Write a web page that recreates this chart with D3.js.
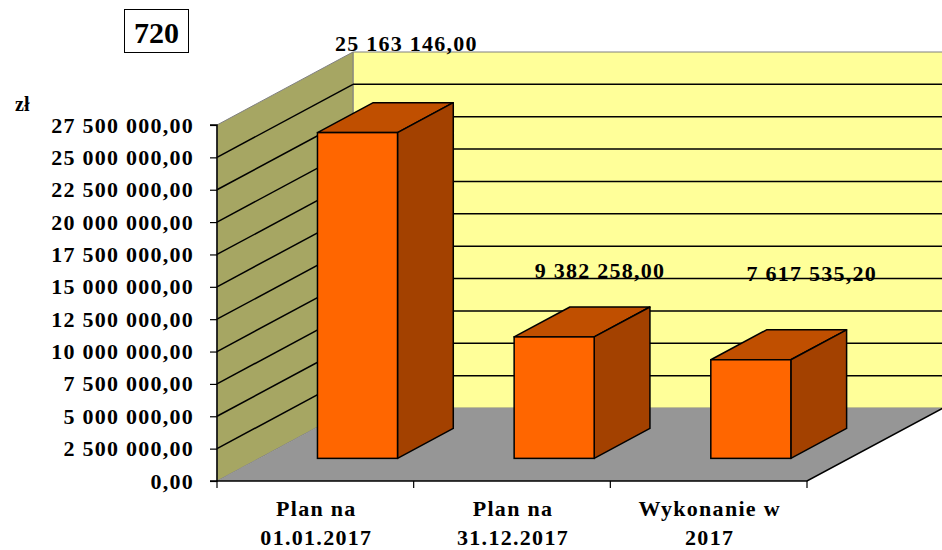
<!DOCTYPE html>
<html><head><meta charset="utf-8">
<script src="https://cdn.jsdelivr.net/npm/d3@7"></script>
<style>
html,body{margin:0;padding:0;background:#fff;}
svg{display:block;}
text{font-family:"Liberation Serif","Times New Roman",serif;font-weight:bold;fill:#000;}
</style></head>
<body>
<svg id="chart" width="942" height="550"></svg>
<script>
// ---- data ----
const categories = [["Plan na","01.01.2017"],["Plan na","31.12.2017"],["Wykonanie w","2017"]];
const values = [25163146.00, 9382258.00, 7617535.20];
const valueLabels = ["25 163 146,00","9 382 258,00","7 617 535,20"];
const tickValues = [0,2500000,5000000,7500000,10000000,12500000,15000000,17500000,20000000,22500000,25000000,27500000];
const title = "720";
const unitLabel = "zł";

// ---- layout ----
const W = 942, H = 550;
const x0 = 217, x1 = 807, yBase = 481, yTop = 125;
const DX = 136, DY = 73;          // full depth offset
const barFront = 0.31, barDepth = 0.41, barWidthFrac = 0.407;
const labelNudge = [[91,-52],[88,-29],[103,-49]];

const fmt = v => {
  const parts = v.toFixed(2).split(".");
  return parts[0].replace(/\B(?=(\d{3})+(?!\d))/g, " ") + "," + parts[1];
};

const svg = d3.select("#chart");
const y = d3.scaleLinear().domain([0, 27500000]).range([yBase, yTop]);
const x = d3.scaleBand().domain(d3.range(categories.length)).range([x0, x1]).paddingInner(0).paddingOuter(0);

const defs = svg.append("defs");
defs.append("clipPath").attr("id","clip").append("rect").attr("x",0).attr("y",0).attr("width",W).attr("height",H);
const g = svg.append("g").attr("clip-path","url(#clip)");

const P = pts => "M" + pts.map(p => p.join(",")).join("L") + "Z";

// back wall
g.append("path").attr("d", P([[x0+DX,y(27500000)-DY],[x1+DX,y(27500000)-DY],[x1+DX,y(0)-DY],[x0+DX,y(0)-DY]]))
  .attr("fill","#FFFF99").attr("stroke","#808080").attr("stroke-width",1);
// side wall
g.append("path").attr("d", P([[x0,y(27500000)],[x0+DX,y(27500000)-DY],[x0+DX,y(0)-DY],[x0,y(0)]]))
  .attr("fill","#A6A663").attr("stroke","#808080").attr("stroke-width",1);
// floor
g.append("path").attr("d", P([[x0,y(0)],[x0+DX,y(0)-DY],[x1+DX,y(0)-DY],[x1,y(0)]]))
  .attr("fill","#969696").attr("stroke","none");
// floor outline front + right
g.append("path").attr("d", `M${x0},${y(0)}L${x1},${y(0)}L${x1+DX},${y(0)-DY}`)
  .attr("fill","none").attr("stroke","#000").attr("stroke-width",1.5);

// gridlines
const grid = tickValues.filter(t => t > 0 && t < 27500000);
g.selectAll(".gside").data(grid).join("line")
  .attr("x1", x0).attr("y1", d => y(d)).attr("x2", x0+DX).attr("y2", d => y(d)-DY)
  .attr("stroke","#000").attr("stroke-width",1.5);
g.selectAll(".gback").data(grid).join("line")
  .attr("x1", x0+DX).attr("y1", d => y(d)-DY).attr("x2", x1+DX).attr("y2", d => y(d)-DY)
  .attr("stroke","#000").attr("stroke-width",1.5);

// value axis
const yAxis = d3.axisLeft(y).tickValues(tickValues).tickSize(7).tickFormat(fmt);
const ya = svg.append("g").attr("transform", `translate(${x0},0)`).call(yAxis);
ya.attr("font-size",null).attr("font-family",null);
ya.select(".domain").attr("stroke","#000").attr("stroke-width",1.5).attr("d", `M-7,${yTop}H0V${yBase}H-7`);
ya.selectAll(".tick line").attr("stroke","#000").attr("stroke-width",1.2);
ya.selectAll(".tick text").attr("x",-23).attr("dy",null).attr("y",7)
  .style("font-size","22px").style("letter-spacing","1.25px")
  .style("font-family",'"Liberation Serif","Times New Roman",serif').style("font-weight","bold");

// category axis ticks at band boundaries
const bounds = d3.range(categories.length+1).map(i => x0 + i*x.bandwidth());
svg.selectAll(".ctick").data(bounds).join("line")
  .attr("x1", d => d).attr("x2", d => d).attr("y1", yBase).attr("y2", yBase+7)
  .attr("stroke","#000").attr("stroke-width",1.2);

// bars
const bw = x.bandwidth()*barWidthFrac;
const bars = g.selectAll(".bar").data(values).join("g");
bars.each(function(v,i){
  const sel = d3.select(this);
  const fx = x(i) + (x.bandwidth()-bw)/2 + barFront*DX;
  const fyB = y(0) - barFront*DY;
  const fyT = y(v) - barFront*DY;
  const ddx = barDepth*DX, ddy = barDepth*DY;
  sel.append("path").attr("d", P([[fx,fyT],[fx+ddx,fyT-ddy],[fx+bw+ddx,fyT-ddy],[fx+bw,fyT]]))
    .attr("fill","#C04F00").attr("stroke","#000").attr("stroke-width",1.5).attr("stroke-linejoin","round");
  sel.append("path").attr("d", P([[fx+bw,fyT],[fx+bw+ddx,fyT-ddy],[fx+bw+ddx,fyB-ddy],[fx+bw,fyB]]))
    .attr("fill","#A34100").attr("stroke","#000").attr("stroke-width",1.5).attr("stroke-linejoin","round");
  sel.append("rect").attr("x",fx).attr("y",fyT).attr("width",bw).attr("height",fyB-fyT)
    .attr("fill","#FF6600").attr("stroke","#000").attr("stroke-width",1.5);
});

// value labels
svg.selectAll(".vlab").data(values).join("text")
  .attr("x", (v,i) => x(i) + labelNudge[i][0] + x.bandwidth()/2)
  .attr("y", (v,i) => y(v) - (barFront+barDepth)*DY + labelNudge[i][1])
  .attr("text-anchor","middle").style("font-size","22px").style("letter-spacing","1.25px")
  .text((v,i) => valueLabels[i]);

// category labels
const cl = svg.selectAll(".clab").data(categories).join("text")
  .attr("text-anchor","middle").style("font-size","22px").style("letter-spacing","1.3px");
cl.each(function(lines,i){
  const t = d3.select(this);
  lines.forEach((ln,j) => t.append("tspan").attr("x", x(i)+x.bandwidth()/2 + 1).attr("y", 516 + j*29).text(ln));
});

// unit label
svg.append("text").attr("x",15).attr("y",111).style("font-size","20px").text(unitLabel);

// title box
svg.append("rect").attr("x",124.5).attr("y",9.5).attr("width",64).attr("height",43)
  .attr("fill","#fff").attr("stroke","#000").attr("stroke-width",1);
svg.append("text").attr("x",156.5).attr("y",43).attr("text-anchor","middle").style("font-size","30px").text(title);
</script>
</body></html>
